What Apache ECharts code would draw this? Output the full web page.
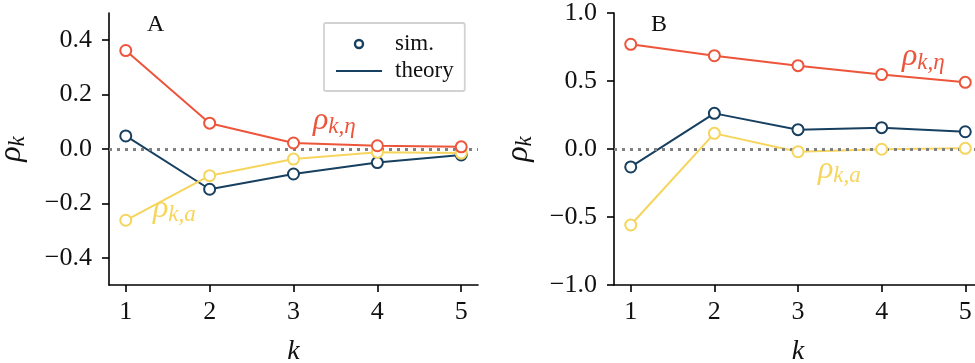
<!DOCTYPE html>
<html>
<head>
<meta charset="utf-8">
<script src="https://cdn.jsdelivr.net/npm/echarts@6/dist/echarts.min.js"></script>
<style>
html,body{margin:0;padding:0;background:#fff;}
#chart{width:975px;height:363px;}
</style>
</head>
<body>
<div id="chart"></div>
<script>
// ---- data ----
const ks = [1, 2, 3, 4, 5];
const xTickLabels = ['1', '2', '3', '4', '5'];

// Panel A
const etaA = [0.362, 0.095, 0.022, 0.012, 0.008];
const totA = [0.048, -0.148, -0.092, -0.050, -0.022];
const accA = [-0.262, -0.098, -0.037, -0.012, -0.015];
const yTicksA = [-0.4, -0.2, 0, 0.2, 0.4];
const yTickLabelsA = ['\u22120.4', '\u22120.2', '0.0', '0.2', '0.4'];

// Panel B
const etaB = [0.770, 0.686, 0.613, 0.547, 0.490];
const totB = [-0.132, 0.262, 0.142, 0.157, 0.127];
const accB = [-0.559, 0.115, -0.020, -0.002, 0.005];
const yTicksB = [-1, -0.5, 0, 0.5, 1];
const yTickLabelsB = ['\u22121.0', '\u22120.5', '0.0', '0.5', '1.0'];

const legendLabels = ['sim.', 'theory'];

// ---- style ----
const RED = '#ED553B', YEL = '#F6D55C', BLUE = '#173F5F';
const SERIF = 'Liberation Serif';
const AX = '#000';

function pairs(vals) { return ks.map((k, i) => [k, vals[i]]); }
function labelFor(ticks, labels) {
  return v => { const i = ticks.findIndex(t => Math.abs(t - v) < 1e-9); return i >= 0 ? labels[i] : ''; };
}
// rich styles for math-like labels (axis name uses `color`, graphic text uses `fill`)
const richMath = (color) => ({
  r: { fontFamily: SERIF, fontStyle: 'italic', fontSize: 32, color: color, fill: color, lineHeight: 34 },
  s: { fontFamily: SERIF, fontStyle: 'italic', fontSize: 23, color: color, fill: color, verticalAlign: 'bottom', lineHeight: 24 }
});

function xAxis(gi) {
  return {
    type: 'value', gridIndex: gi, min: 0.8, max: 5.2,
    name: 'k', nameLocation: 'middle', nameGap: 53,
    nameTextStyle: { fontFamily: SERIF, fontStyle: 'italic', fontSize: 28, color: '#111' },
    axisLine: { show: true, onZero: false, lineStyle: { color: AX, width: 1.6 } },
    axisTick: { show: true, inside: false, length: 7, customValues: ks, lineStyle: { color: AX, width: 1.6 } },
    axisLabel: { customValues: ks, margin: 14, fontFamily: SERIF, fontSize: 26, color: '#111',
      formatter: labelFor(ks, xTickLabels) },
    splitLine: { show: false }
  };
}
function yAxis(gi, mn, mx, ticks, labels, gap) {
  return {
    type: 'value', gridIndex: gi, min: mn, max: mx,
    name: '{r|\u03C1}{s|k}', nameLocation: 'middle', nameGap: gap, nameRotate: 90,
    nameTextStyle: { rich: richMath('#111') },
    axisLine: { show: true, onZero: false, lineStyle: { color: AX, width: 1.6 } },
    axisTick: { show: true, inside: false, length: 7, customValues: ticks, lineStyle: { color: AX, width: 1.6 } },
    axisLabel: { customValues: ticks, margin: 17, fontFamily: SERIF, fontSize: 26, color: '#111',
      formatter: labelFor(ticks, labels) },
    splitLine: { show: false }
  };
}
function lineS(name, gi, vals, color) {
  return { name: name, type: 'line', xAxisIndex: gi, yAxisIndex: gi, data: pairs(vals),
    symbol: 'none', showSymbol: false, z: 2,
    lineStyle: { color: color, width: 2 }, itemStyle: { color: color }, silent: true };
}
function dotS(name, gi, vals, color, z) {
  return { name: name, type: 'scatter', xAxisIndex: gi, yAxisIndex: gi, data: pairs(vals),
    symbol: 'emptyCircle', symbolSize: 11, z: z,
    itemStyle: { color: color, borderColor: color, borderWidth: 2, opacity: 1 }, silent: true };
}
function zeroLine(gi) {
  return { name: 'zero' + gi, type: 'line', xAxisIndex: gi, yAxisIndex: gi, data: [], silent: true,
    markLine: { silent: true, symbol: ['none', 'none'], z: 5, label: { show: false },
      lineStyle: { type: [3, 5], width: 3, color: '#808080', cap: 'butt' },
      emphasis: { disabled: true },
      data: [{ yAxis: 0 }] } };
}

const chart = echarts.init(document.getElementById('chart'), null, { renderer: 'canvas' });
const option = {
  animation: false,
  backgroundColor: '#fff',
  grid: [
    { left: 109, top: 13, width: 369, height: 272, containLabel: false, outerBoundsMode: 'none' },
    { left: 614, top: 13, width: 368, height: 272, containLabel: false, outerBoundsMode: 'none' }
  ],
  xAxis: [xAxis(0), xAxis(1)],
  yAxis: [
    yAxis(0, -0.5, 0.5, yTicksA, yTickLabelsA, 80),
    yAxis(1, -1, 1, yTicksB, yTickLabelsB, 78)
  ],
  legend: {
    orient: 'vertical', left: 324, top: 23,
    data: [
      { name: legendLabels[0], icon: 'circle', itemStyle: { color: '#fff', borderColor: BLUE, borderWidth: 2.4 } },
      { name: legendLabels[1], itemStyle: { opacity: 0 } }
    ],
    itemWidth: 46, itemHeight: 8, itemGap: 3,
    padding: [9, 11, 8, 11],
    borderColor: '#d2d2d2', borderWidth: 1.8, borderRadius: 2,
    backgroundColor: '#fff',
    selectedMode: false,
    textStyle: { fontFamily: SERIF, fontSize: 23, color: '#111', lineHeight: 24, padding: [0, 0, 0, 8] }
  },
  series: [
    lineS(legendLabels[1], 0, totA, BLUE),
    lineS('rho_k,a theory A', 0, accA, YEL),
    lineS('rho_k,eta theory A', 0, etaA, RED),
    zeroLine(0),
    dotS(legendLabels[0], 0, totA, BLUE, 6),
    dotS('rho_k,a sim A', 0, accA, YEL, 7),
    dotS('rho_k,eta sim A', 0, etaA, RED, 8),

    lineS(legendLabels[1], 1, totB, BLUE),
    lineS('rho_k,a theory B', 1, accB, YEL),
    lineS('rho_k,eta theory B', 1, etaB, RED),
    zeroLine(1),
    dotS(legendLabels[0], 1, totB, BLUE, 6),
    dotS('rho_k,a sim B', 1, accB, YEL, 7),
    dotS('rho_k,eta sim B', 1, etaB, RED, 8)
  ],
  graphic: [
    { type: 'text', left: 147, top: 13, style: { text: 'A', fontFamily: SERIF, fontSize: 24, fill: '#111' } },
    { type: 'text', left: 651, top: 13, style: { text: 'B', fontFamily: SERIF, fontSize: 24, fill: '#111' } },
    { type: 'text', left: 313, top: 105, style: { text: '{r|\u03C1}{s|k,\u03B7}', rich: richMath(RED) } },
    { type: 'text', left: 902, top: 41, style: { text: '{r|\u03C1}{s|k,\u03B7}', rich: richMath(RED) } },
    { type: 'text', left: 153, top: 193, style: { text: '{r|\u03C1}{s|k,a}', rich: richMath(YEL) } },
    { type: 'text', left: 818, top: 154, style: { text: '{r|\u03C1}{s|k,a}', rich: richMath(YEL) } }
  ]
};
chart.setOption(option);
</script>
</body>
</html>
